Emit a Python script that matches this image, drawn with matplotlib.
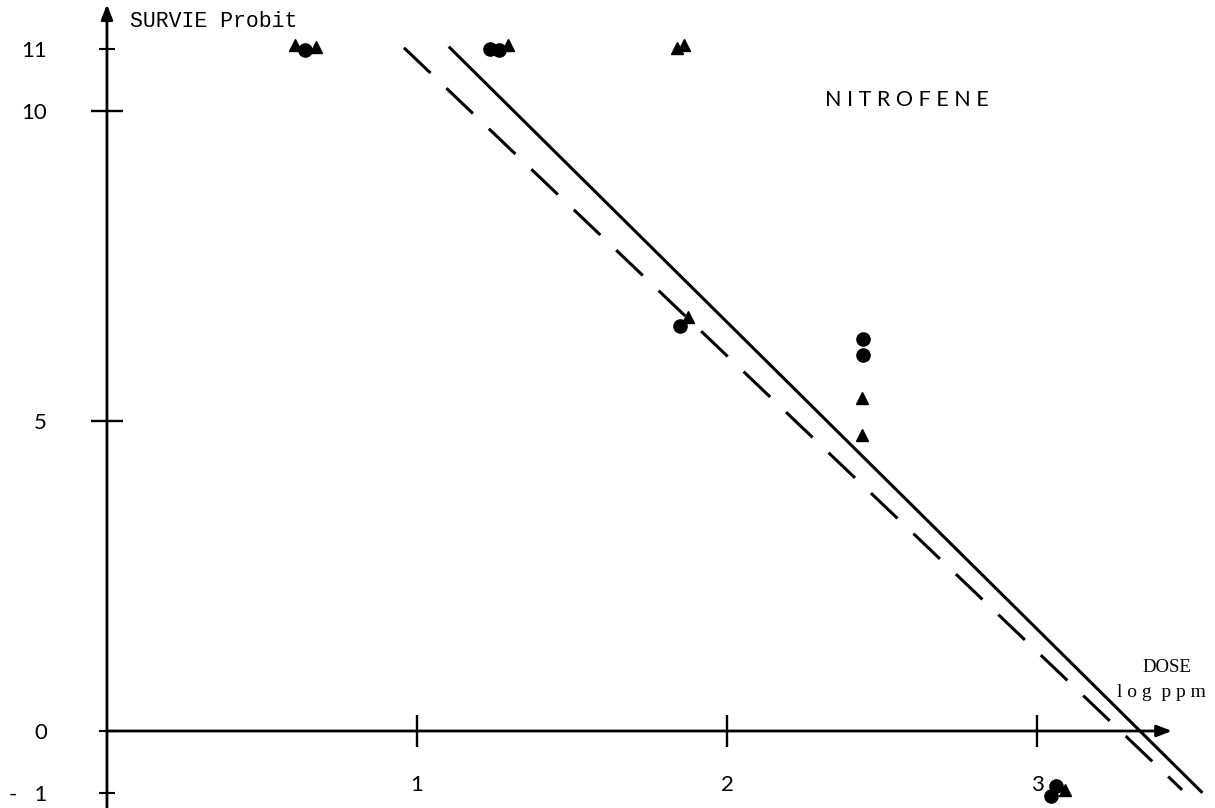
import matplotlib

matplotlib.use("Agg")
import matplotlib.pyplot as plt

# fitted probit lines (log ppm, probit)
solid_x = [1.106, 3.53]
solid_y = [11.02, -0.98]
dashed_x = [0.958, 3.468]
dashed_y = [11.02, -0.95]

# observed points
circle_x = [0.64, 1.235, 1.265, 1.848, 2.439, 2.439, 3.045, 3.06]
circle_y = [10.98, 11.0, 10.98, 6.53, 6.32, 6.06, -1.05, -0.88]
tri_x = [0.606, 0.674, 1.294, 1.839, 1.861, 1.875, 2.435, 2.435, 3.09]
tri_y = [11.06, 11.03, 11.06, 11.02, 11.06, 6.68, 5.37, 4.77, -0.95]

xticks = [1, 2, 3]
yticks_major = [5, 10]
yticks_minor = [-1, 0, 11]
yminor_labels = ["-   1", "0", "11"]

fig = plt.figure(figsize=(12.15, 8.08), dpi=100)
ax = fig.add_axes([0, 0, 1, 1])
ax.set_xlim(-0.345, 3.574)
ax.set_ylim(-1.242, 11.79)

for side in ["top", "right", "left", "bottom"]:
    ax.spines[side].set_visible(False)
ax.spines["left"].set_position(("data", 0))
ax.spines["bottom"].set_position(("data", 0))

# axes with arrow heads
arrow = dict(arrowstyle="-|>,head_length=0.9,head_width=0.35", color="black", lw=2.0,
             shrinkA=0, shrinkB=0)
ax.annotate("", xy=(0, 11.72), xytext=(0, -1.242), arrowprops=arrow, annotation_clip=False)
ax.annotate("", xy=(3.435, 0), xytext=(0, 0), arrowprops=arrow, annotation_clip=False)

tick_font = dict(family="Lato", size=16)
ax.set_xticks(xticks)
ax.set_xticklabels([str(t) for t in xticks], **tick_font)
ax.set_yticks(yticks_major)
ax.set_yticklabels([str(t) for t in yticks_major], **tick_font)
ax.set_yticks(yticks_minor, minor=True)
ax.set_yticklabels(yminor_labels, minor=True, **tick_font)
ax.tick_params(axis="x", direction="inout", length=23, width=1.7, pad=20)
ax.tick_params(axis="y", which="major", direction="inout", length=23, width=1.7, pad=32)
ax.tick_params(axis="y", which="minor", direction="inout", length=12, width=1.5, pad=37)

ax.plot(solid_x, solid_y, color="black", lw=2.2)
ax.plot(dashed_x, dashed_y, color="black", lw=2.2, dashes=(12, 7.2))

ax.plot(circle_x, circle_y, "o", color="black", ms=9.5, clip_on=False)
ax.plot(tri_x, tri_y, "^", color="black", ms=8, clip_on=False)

ax.text(0.074, 11.45, "SURVIE Probit", family="Liberation Mono", size=15.5,
        va="center", ha="left")
ax.text(2.58, 10.18, "N I T R O F E N E", family="Lato", size=15.5,
        va="center", ha="center")
ax.text(3.42, 1.03, "DOSE", family="Liberation Serif", size=13.5,
        va="center", ha="center")
ax.text(3.40, 0.62, "l o g  p p m", family="Liberation Serif", size=14,
        va="center", ha="center")

fig.savefig("out.png", dpi=100)
plt.close(fig)
